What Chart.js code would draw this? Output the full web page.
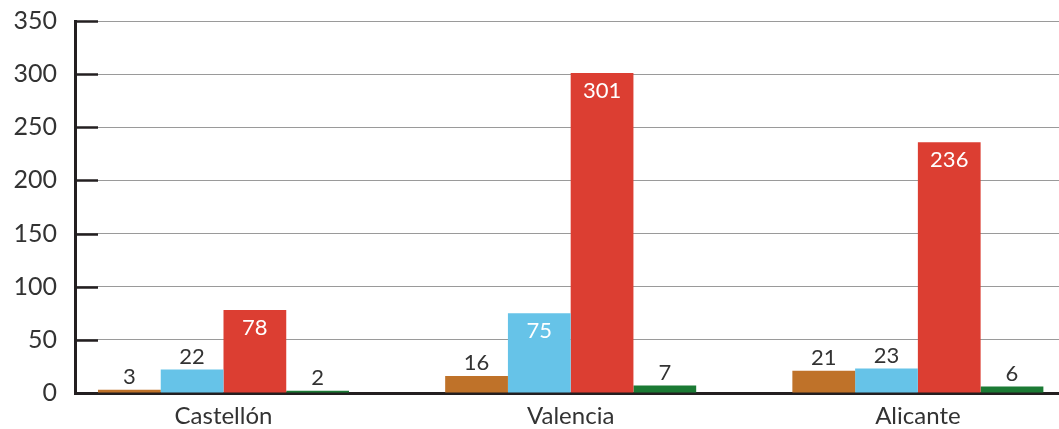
<!DOCTYPE html>
<html>
<head>
<meta charset="utf-8">
<script src="https://cdn.jsdelivr.net/npm/chart.js@4"></script>
<style>
  html, body { margin: 0; padding: 0; background: #fff; overflow: hidden; }
  #wrap { width: 1059px; height: 429px; position: relative; }
</style>
</head>
<body>
<div id="wrap"><canvas id="grafico"></canvas></div>
<script>
// provincias
const provincias = ['Castellón', 'Valencia', 'Alicante'];

// series (una por color)
const serieMarron = [3, 16, 21];
const serieAzul = [22, 75, 23];
const serieRoja = [78, 301, 236];
const serieVerde = [2, 7, 6];

const ticksY = [0, 50, 100, 150, 200, 250, 300, 350];

const colores = ['#bf7229', '#66c3e8', '#dc3e32', '#1b7a34'];
const series = [serieMarron, serieAzul, serieRoja, serieVerde];

const fuente = 'Lato';
const colorTexto = '#333333';

// barras sobre eje lineal: x = indice de la provincia
const datasets = series.map((vals, s) => ({
    data: vals.map((v, i) => ({ x: i, y: v })),
    backgroundColor: colores[s],
    borderWidth: 0,
    categoryPercentage: 0.723,
    barPercentage: 1
}));

// etiquetas con el valor: dentro (blanco) si la barra es alta, encima si no
const etiquetas = {
    id: 'etiquetas',
    afterDatasetsDraw(chart) {
        const ctx = chart.ctx;
        ctx.save();
        ctx.font = '400 22px ' + fuente;
        ctx.textAlign = 'center';
        ctx.textBaseline = 'middle';
        chart.data.datasets.forEach((ds, d) => {
            chart.getDatasetMeta(d).data.forEach((bar, i) => {
                const v = series[d][i];
                if (v >= 50) {
                    ctx.fillStyle = '#ffffff';
                    ctx.fillText(v, bar.x, bar.y + 18);
                } else {
                    ctx.fillStyle = colorTexto;
                    ctx.fillText(v, bar.x, bar.y - 13);
                }
            });
        });
        ctx.restore();
    }
};

// marcas negras cortas del eje Y, hacia dentro
const marcasY = {
    id: 'marcasY',
    afterDraw(chart) {
        const ctx = chart.ctx;
        const y = chart.scales.y;
        const left = chart.chartArea.left;
        ctx.save();
        ctx.strokeStyle = '#231f20';
        ctx.lineWidth = 2.5;
        ticksY.forEach(t => {
            const py = Math.round(y.getPixelForValue(t)) + 0.5;
            ctx.beginPath();
            ctx.moveTo(left, py);
            ctx.lineTo(left + 23, py);
            ctx.stroke();
        });
        ctx.restore();
    }
};

new Chart(document.getElementById('grafico'), {
    type: 'bar',
    data: { datasets: datasets },
    options: {
        responsive: true,
        maintainAspectRatio: false,
        animation: false,
        layout: { padding: { top: 21, right: 0, left: 0, bottom: 0 } },
        plugins: {
            legend: { display: false },
            tooltip: { enabled: false }
        },
        scales: {
            x: {
                type: 'linear',
                offset: false,
                bounds: 'data',
                min: -0.4277,
                max: 2.4065,
                afterBuildTicks: axis => {
                    axis.ticks = provincias.map((p, i) => ({ value: i }));
                },
                afterFit: axis => { axis.height = 36; },
                grid: { display: false, drawTicks: false, offset: false },
                border: { display: true, color: '#231f20', width: 3 },
                ticks: {
                    padding: 9,
                    color: colorTexto,
                    maxRotation: 0,
                    autoSkip: false,
                    font: { family: fuente, size: 24, weight: 400 },
                    callback: v => provincias[v]
                }
            },
            y: {
                min: 0,
                max: 350,
                afterBuildTicks: axis => {
                    axis.ticks = ticksY.map(v => ({ value: v }));
                },
                afterFit: axis => {
                    axis.width = 75;
                    axis.paddingTop = 0;
                    axis.paddingBottom = 0;
                },
                grid: { color: '#9a9a9a', lineWidth: 1, drawTicks: false },
                border: { display: true, color: '#231f20', width: 3 },
                ticks: {
                    padding: 18,
                    color: colorTexto,
                    font: { family: fuente, size: 25, weight: 400 }
                }
            }
        }
    },
    plugins: [etiquetas, marcasY]
});
</script>
</body>
</html>
